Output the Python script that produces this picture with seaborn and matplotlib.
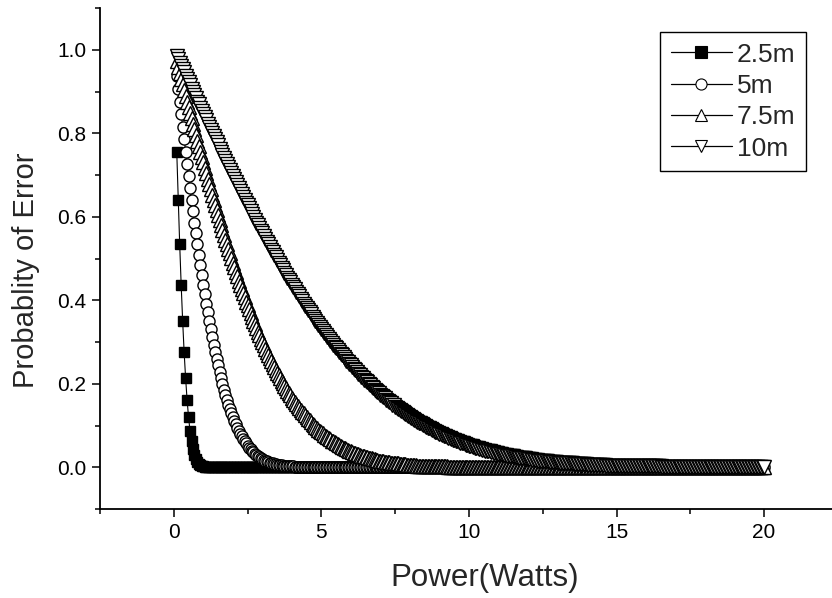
import numpy as np
import matplotlib
matplotlib.use("Agg")
import matplotlib.pyplot as plt
import seaborn as sns
from matplotlib.ticker import MultipleLocator, FormatStrFormatter

# sampling grid of the curves (Watts), 0.1 .. 20 in 0.05 steps
power = np.round(np.arange(0.1, 20.0001, 0.05), 2)

# probability of error; curves sit on 0 after the listed points
pe_2_5m = [0.756, 0.641, 0.534, 0.437, 0.351, 0.276, 0.214, 0.162, 0.120, 0.087,
           0.062, 0.043, 0.030, 0.020, 0.013, 0.008, 0.005, 0.003, 0.002, 0.001, 0.001]

pe_5m = [0.938, 0.907, 0.876, 0.846, 0.816, 0.786, 0.756, 0.726, 0.698, 0.669,
         0.641, 0.613, 0.586, 0.560, 0.534, 0.509, 0.484, 0.460, 0.437, 0.414,
         0.392, 0.371, 0.351, 0.331, 0.312, 0.294, 0.276, 0.259, 0.244, 0.228,
         0.214, 0.200, 0.186, 0.174, 0.162, 0.150, 0.140, 0.130, 0.120, 0.111,
         0.103, 0.095, 0.087, 0.080, 0.074, 0.068, 0.062, 0.057, 0.052, 0.047,
         0.043, 0.039, 0.036, 0.032, 0.030, 0.027, 0.024, 0.022, 0.020, 0.018,
         0.016, 0.014, 0.013, 0.011, 0.010, 0.009, 0.008, 0.007, 0.006, 0.006,
         0.005, 0.005, 0.004, 0.003, 0.003, 0.003, 0.002, 0.002, 0.002, 0.002,
         0.001, 0.001, 0.001, 0.001, 0.001, 0.001, 0.001]

pe_7_5m = [0.972, 0.959, 0.945, 0.931, 0.917, 0.904, 0.890, 0.876, 0.863, 0.849,
           0.836, 0.822, 0.809, 0.796, 0.782, 0.769, 0.756, 0.743, 0.730, 0.717,
           0.704, 0.691, 0.678, 0.666, 0.653, 0.641, 0.629, 0.616, 0.604, 0.592,
           0.580, 0.568, 0.557, 0.545, 0.534, 0.522, 0.512, 0.501, 0.490, 0.479,
           0.468, 0.458, 0.447, 0.437, 0.427, 0.417, 0.407, 0.397, 0.388, 0.378,
           0.369, 0.360, 0.351, 0.342, 0.333, 0.325, 0.316, 0.308, 0.300, 0.292,
           0.284, 0.276, 0.269, 0.261, 0.254, 0.247, 0.240, 0.233, 0.226, 0.220,
           0.214, 0.207, 0.201, 0.195, 0.189, 0.183, 0.178, 0.172, 0.167, 0.162,
           0.156, 0.152, 0.147, 0.142, 0.137, 0.133, 0.129, 0.124, 0.120, 0.116,
           0.112, 0.108, 0.104, 0.101, 0.097, 0.094, 0.090, 0.087, 0.084, 0.081,
           0.078, 0.075, 0.072, 0.070, 0.067, 0.064, 0.062, 0.060, 0.057, 0.055,
           0.053, 0.051, 0.049, 0.047, 0.045, 0.043, 0.042, 0.040, 0.038, 0.037,
           0.035, 0.033, 0.032, 0.031, 0.030, 0.028, 0.027, 0.026, 0.025, 0.024,
           0.023, 0.022, 0.021, 0.020, 0.019, 0.018, 0.017, 0.016, 0.016, 0.015,
           0.014, 0.013, 0.013, 0.012, 0.012, 0.011, 0.010, 0.010, 0.010, 0.009,
           0.009, 0.008, 0.008, 0.007, 0.007, 0.007, 0.006, 0.006, 0.006, 0.005,
           0.005, 0.005, 0.005, 0.004, 0.004, 0.004, 0.004, 0.003, 0.003, 0.003,
           0.003, 0.003, 0.003, 0.002, 0.002, 0.002, 0.002, 0.002, 0.002, 0.002,
           0.002, 0.002, 0.002, 0.002, 0.001, 0.001, 0.001, 0.001, 0.001, 0.001,
           0.001, 0.001, 0.001, 0.001, 0.001, 0.001, 0.001, 0.001, 0.001, 0.001]

pe_10m = [0.984, 0.977, 0.969, 0.961, 0.953, 0.946, 0.938, 0.930, 0.923, 0.915,
          0.907, 0.899, 0.892, 0.884, 0.876, 0.869, 0.861, 0.853, 0.846, 0.838,
          0.831, 0.823, 0.816, 0.808, 0.801, 0.793, 0.786, 0.778, 0.771, 0.763,
          0.756, 0.749, 0.741, 0.734, 0.726, 0.719, 0.712, 0.705, 0.698, 0.690,
          0.683, 0.676, 0.669, 0.662, 0.655, 0.648, 0.641, 0.634, 0.627, 0.620,
          0.613, 0.607, 0.600, 0.593, 0.586, 0.580, 0.573, 0.566, 0.560, 0.553,
          0.547, 0.540, 0.534, 0.527, 0.521, 0.515, 0.509, 0.503, 0.496, 0.490,
          0.484, 0.478, 0.472, 0.466, 0.460, 0.454, 0.449, 0.443, 0.437, 0.431,
          0.426, 0.420, 0.414, 0.409, 0.403, 0.398, 0.392, 0.387, 0.382, 0.377,
          0.371, 0.366, 0.361, 0.356, 0.351, 0.346, 0.341, 0.336, 0.331, 0.326,
          0.321, 0.317, 0.312, 0.308, 0.303, 0.298, 0.294, 0.289, 0.285, 0.281,
          0.276, 0.272, 0.268, 0.264, 0.259, 0.255, 0.251, 0.248, 0.244, 0.240,
          0.236, 0.232, 0.228, 0.224, 0.221, 0.217, 0.214, 0.210, 0.206, 0.203,
          0.200, 0.196, 0.193, 0.190, 0.186, 0.183, 0.180, 0.177, 0.174, 0.171,
          0.168, 0.165, 0.162, 0.159, 0.156, 0.153, 0.150, 0.148, 0.145, 0.142,
          0.140, 0.137, 0.135, 0.132, 0.130, 0.127, 0.125, 0.122, 0.120, 0.118,
          0.115, 0.113, 0.111, 0.109, 0.107, 0.105, 0.103, 0.101, 0.099, 0.097,
          0.095, 0.093, 0.091, 0.089, 0.087, 0.085, 0.084, 0.082, 0.080, 0.079,
          0.077, 0.075, 0.074, 0.072, 0.071, 0.069, 0.068, 0.066, 0.065, 0.063,
          0.062, 0.061, 0.059, 0.058, 0.057, 0.055, 0.054, 0.053, 0.052, 0.051,
          0.050, 0.048, 0.047, 0.046, 0.045, 0.044, 0.043, 0.042, 0.041, 0.040,
          0.039, 0.038, 0.038, 0.037, 0.036, 0.035, 0.034, 0.033, 0.032, 0.032,
          0.031, 0.030, 0.030, 0.029, 0.028, 0.027, 0.027, 0.026, 0.026, 0.025,
          0.024, 0.023, 0.023, 0.022, 0.022, 0.021, 0.021, 0.020, 0.020, 0.019,
          0.019, 0.018, 0.018, 0.017, 0.017, 0.016, 0.016, 0.015, 0.015, 0.015,
          0.014, 0.014, 0.013, 0.013, 0.013, 0.012, 0.012, 0.012, 0.011, 0.011,
          0.011, 0.011, 0.010, 0.010, 0.010, 0.009, 0.009, 0.009, 0.009, 0.008,
          0.008, 0.008, 0.008, 0.007, 0.007, 0.007, 0.007, 0.007, 0.006, 0.006,
          0.006, 0.006, 0.006, 0.006, 0.005, 0.005, 0.005, 0.005, 0.005, 0.005,
          0.005, 0.004, 0.004, 0.004, 0.004, 0.004, 0.004, 0.004, 0.003] \
    + [0.003] * 10 + [0.002] * 20 + [0.001] * 20

labels = ["2.5m", "5m", "7.5m", "10m"]
series = [pe_2_5m, pe_5m, pe_7_5m, pe_10m]
markers = ["s", "o", "^", "v"]
fills = ["black", "white", "white", "white"]
sizes = [7, 8, 10.5, 10.5]


def pad(vals):
    # the rest of the curve lies flat on zero out to 20 W
    return vals + [0.0] * (len(power) - len(vals))


sns.set_style("ticks")
plt.rcParams["font.family"] = ["Liberation Sans", "DejaVu Sans"]

fig = plt.figure(figsize=(8.32, 5.98), dpi=100)
ax = fig.add_axes([100 / 832, 89 / 598, 732 / 832, 501 / 598])

for lab, vals, m, fc, ms in zip(labels, series, markers, fills, sizes):
    sns.lineplot(x=power, y=pad(vals), ax=ax, color="black", lw=0.8,
                 marker=m, markersize=ms, markerfacecolor=fc,
                 markeredgecolor="black", markeredgewidth=1.0,
                 label=lab, estimator=None, sort=False)

ax.set_xlim(-2.5, 22.3)
ax.set_ylim(-0.1, 1.1)
ax.xaxis.set_major_locator(MultipleLocator(5))
ax.xaxis.set_minor_locator(MultipleLocator(2.5))
ax.yaxis.set_major_locator(MultipleLocator(0.2))
ax.yaxis.set_minor_locator(MultipleLocator(0.1))
ax.xaxis.set_major_formatter(FormatStrFormatter("%d"))
ax.yaxis.set_major_formatter(FormatStrFormatter("%.1f"))

for side in ["top", "right"]:
    ax.spines[side].set_visible(False)
for side in ["left", "bottom"]:
    ax.spines[side].set_linewidth(1.3)
    ax.spines[side].set_color("black")

ax.tick_params(which="major", direction="out", length=6, width=1.1,
               labelsize=15, colors="black", pad=4)
ax.tick_params(which="minor", direction="out", length=3.5, width=1.1, colors="black")

ax.set_xlabel("Power(Watts)", fontsize=22.5)
ax.set_ylabel("Probablity of Error", fontsize=21)
ax.xaxis.set_label_coords(0.525, -0.108)
ax.yaxis.set_label_coords(-0.082, 0.477)

leg = ax.legend(loc="upper right", bbox_to_anchor=((806 - 100) / 732, 1 - 24 / 501),
                borderaxespad=0, fontsize=19, handlelength=2.3, handletextpad=0.2,
                labelspacing=0.28, borderpad=0.4, fancybox=False, framealpha=1,
                edgecolor="black")
leg.get_frame().set_linewidth(1.0)
for h in leg.get_lines():
    h.set_linewidth(0.9)
    h.set_markersize(8)
    h.set_markeredgewidth(0.8)

fig.savefig("out.png", dpi=100)
